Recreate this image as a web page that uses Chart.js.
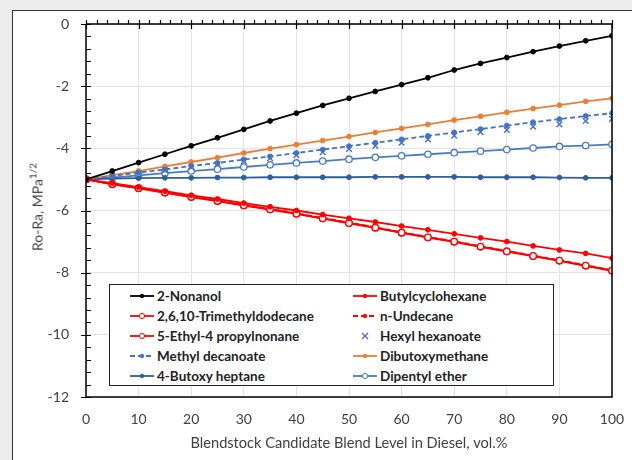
<!DOCTYPE html>
<html>
<head>
<meta charset="utf-8">
<title>Ro-Ra blend level</title>
<script src="https://cdn.jsdelivr.net/npm/chart.js@4.4.1/dist/chart.umd.min.js"></script>
<style>
  html, body { margin: 0; padding: 0; background: #ececec; }
  #wrap { position: relative; width: 632px; height: 460px; overflow: hidden; }
  #frame { position: absolute; left: 12px; top: 10px; width: 640px; height: 470px;
           border: 1.5px solid #333; background: #fff; }
  #lineChart { position: absolute; left: 0; top: 0; }
  #ytitle { position: absolute; left: 37px; top: 207px; transform: translate(-50%, -50%) rotate(-90deg);
            font: 14px Lato, sans-serif; color: #404040; white-space: nowrap; }
  #ytitle sup { font-size: 10px; vertical-align: 6px; line-height: 0; }
  #legend { position: absolute; left: 109px; top: 284px; width: 443px; height: 100px;
            border: 1.5px solid #222; background: #fff; font: bold 13.5px Lato, sans-serif; color: #222; }
  .item { position: absolute; height: 20px; line-height: 20px; white-space: nowrap; }
  .item svg { position: absolute; left: 0; top: 0; }
  .item span { position: absolute; left: 28px; top: 0; }
</style>
</head>
<body>
<div id="wrap">
  <div id="frame"></div>
  <canvas id="lineChart" width="632" height="460"></canvas>
  <div id="ytitle">Ro-Ra, MPa<sup>1/2</sup></div>
  <div id="legend"></div>
</div>
<script>
/* Dados */
const blendLevels = [0, 5, 10, 15, 20, 25, 30, 35, 40, 45, 50, 55, 60, 65, 70, 75, 80, 85, 90, 95, 100];

const nonanol = [-5, -4.73, -4.46, -4.19, -3.92, -3.66, -3.39, -3.12, -2.87, -2.62, -2.39, -2.17, -1.95, -1.73, -1.48, -1.27, -1.08, -0.89, -0.71, -0.54, -0.38];
const butylcyclohexane = [-5, -5.12, -5.25, -5.38, -5.51, -5.63, -5.76, -5.88, -6.00, -6.13, -6.25, -6.37, -6.50, -6.62, -6.75, -6.88, -7.00, -7.14, -7.27, -7.38, -7.53];
const trimethyldodecane = [-5, -5.15, -5.28, -5.42, -5.56, -5.69, -5.83, -5.96, -6.10, -6.25, -6.40, -6.55, -6.71, -6.86, -7.00, -7.16, -7.31, -7.46, -7.61, -7.77, -7.93];
const undecane = [-5, -5.14, -5.27, -5.41, -5.55, -5.68, -5.82, -5.95, -6.09, -6.24, -6.39, -6.54, -6.70, -6.85, -6.99, -7.15, -7.30, -7.45, -7.60, -7.76, -7.92];
const propylnonane = [-5, -5.16, -5.29, -5.43, -5.57, -5.70, -5.84, -5.97, -6.11, -6.26, -6.41, -6.56, -6.72, -6.87, -7.01, -7.17, -7.32, -7.47, -7.62, -7.78, -7.94];
const hexylHexanoate = [-5, -4.90, -4.80, -4.71, -4.61, -4.51, -4.41, -4.32, -4.22, -4.12, -4.02, -3.92, -3.82, -3.71, -3.59, -3.48, -3.41, -3.30, -3.23, -3.12, -3.05];
const methylDecanoate = [-5, -4.89, -4.78, -4.68, -4.57, -4.47, -4.36, -4.26, -4.15, -4.04, -3.93, -3.82, -3.71, -3.60, -3.49, -3.38, -3.27, -3.16, -3.06, -2.96, -2.87];
const dibutoxymethane = [-5, -4.86, -4.73, -4.58, -4.44, -4.30, -4.15, -4.01, -3.88, -3.75, -3.62, -3.49, -3.36, -3.23, -3.09, -2.97, -2.84, -2.72, -2.61, -2.49, -2.39];
const butoxyHeptane = [-5, -4.97, -4.96, -4.95, -4.95, -4.94, -4.94, -4.93, -4.93, -4.93, -4.93, -4.92, -4.92, -4.92, -4.92, -4.93, -4.93, -4.93, -4.94, -4.95, -4.95];
const dipentylEther = [-5, -4.94, -4.87, -4.80, -4.73, -4.67, -4.60, -4.53, -4.47, -4.41, -4.35, -4.29, -4.24, -4.19, -4.14, -4.09, -4.04, -3.99, -3.94, -3.91, -3.87];

const yTicks = [0, -2, -4, -6, -8, -10, -12];
const xTicks = [0, 10, 20, 30, 40, 50, 60, 70, 80, 90, 100];

const RED = '#ff0000';
const BLUE = '#4472c4';

function serie(label, data, color, opts) {
  opts = opts || {};
  return {
    label: label,
    data: data,
    borderColor: color,
    backgroundColor: opts.open ? '#fff' : color,
    pointBorderColor: color,
    pointBackgroundColor: opts.open ? '#fff' : color,
    borderWidth: 1.8,
    borderDash: opts.dash ? [5, 3] : [],
    pointRadius: opts.open ? 3.2 : 2.4,
    pointBorderWidth: opts.open ? 1.3 : 1,
    pointStyle: opts.style || 'circle',
    showLine: opts.noLine ? false : true,
    tension: 0
  };
}

// ordem da legenda: linha por linha, duas colunas
const datasets = [
  serie('2-Nonanol', nonanol, '#000000'),
  serie('Butylcyclohexane', butylcyclohexane, RED),
  serie('2,6,10-Trimethyldodecane', trimethyldodecane, RED, {open: true}),
  serie('n-Undecane', undecane, RED, {dash: true}),
  serie('5-Ethyl-4 propylnonane', propylnonane, RED, {open: true}),
  serie('Hexyl hexanoate', hexylHexanoate, BLUE, {noLine: true, style: 'crossRot'}),
  serie('Methyl decanoate', methylDecanoate, BLUE, {dash: true}),
  serie('Dibutoxymethane', dibutoxymethane, '#ed7d31'),
  serie('4-Butoxy heptane', butoxyHeptane, '#2f5f98'),
  serie('Dipentyl ether', dipentylEther, '#4a7bc6', {open: true})
];
datasets[5].pointRadius = 4;
datasets[5].pointBorderWidth = 1.4;

/* eixos no estilo do Excel: marcas menores e maiores desenhadas a mao */
const axisTicks = {
  id: 'axisTicks',
  afterDatasetsDraw(chart) {
    const {ctx, chartArea: a, scales: {x, y}} = chart;
    ctx.save();
    ctx.strokeStyle = '#000';
    ctx.lineWidth = 1.5;
    ctx.beginPath();
    ctx.moveTo(a.left, a.top); ctx.lineTo(a.left, a.bottom);
    ctx.lineTo(a.right, a.bottom); ctx.lineTo(a.right, a.top);
    ctx.lineTo(a.left, a.top);
    ctx.stroke();
    ctx.lineWidth = 1.2;
    ctx.beginPath();
    for (let v = 0; v >= -12.001; v -= 0.4) {
      const py = Math.round(y.getPixelForValue(v)) + 0.5;
      const major = Math.abs(v / 2 - Math.round(v / 2)) < 1e-6;
      ctx.moveTo(a.left - (major ? 5 : 0), py);
      ctx.lineTo(a.left + 5, py);
    }
    for (let v = 0; v <= 100; v += 2) {
      const px = Math.round(x.getPixelForValue(v)) + 0.5;
      const major = v % 10 === 0;
      ctx.moveTo(px, a.top - 4);
      ctx.lineTo(px, a.top + (major ? 5 : 0));
    }
    ctx.stroke();
    ctx.restore();
  }
};

document.addEventListener('DOMContentLoaded', () => {
  const ctx = document.getElementById('lineChart').getContext('2d');
  Chart.defaults.font.family = 'Lato, sans-serif';
  Chart.defaults.color = '#404040';

  new Chart(ctx, {
    type: 'line',
    data: {labels: blendLevels, datasets: datasets},
    plugins: [axisTicks],
    options: {
      responsive: false,
      animation: false,
      layout: {padding: {left: 0, top: 24, right: 20, bottom: 0}},
      scales: {
        x: {
          type: 'linear',
          min: 0, max: 100,
          afterBuildTicks: s => { s.ticks = xTicks.map(v => ({value: v})); },
          afterFit: s => { s.height = 63; s.paddingLeft = 0; s.paddingRight = 0; },
          grid: {color: '#e3e3e3', drawTicks: false},
          border: {display: false},
          ticks: {padding: 14, font: {size: 14}, maxRotation: 0},
          title: {display: true, text: 'Blendstock Candidate Blend Level in Diesel, vol.%',
                  font: {size: 14.6}, padding: {top: 4, bottom: 8}}
        },
        y: {
          min: -12, max: 0,
          afterBuildTicks: s => { s.ticks = yTicks.map(v => ({value: v})); },
          afterFit: s => { s.width = 86; s.paddingTop = 0; s.paddingBottom = 0; },
          grid: {color: '#e3e3e3', drawTicks: false},
          border: {display: false},
          ticks: {padding: 17, font: {size: 14}}
        }
      },
      plugins: {
        legend: {display: false},
        tooltip: {enabled: false}
      }
    }
  });

  // legenda propria, dentro da area do grafico
  const leg = document.getElementById('legend');
  datasets.forEach((d, i) => {
    const col = i % 2, row = Math.floor(i / 2);
    const div = document.createElement('div');
    div.className = 'item';
    div.style.left = (col === 0 ? 19 : 242) + 'px';
    div.style.top = (1 + row * 20) + 'px';
    let svg = '<svg width="28" height="20">';
    if (d.showLine) {
      svg += '<line x1="1" y1="10" x2="25" y2="10" stroke="' + d.borderColor + '" stroke-width="1.8"' +
             (d.borderDash.length ? ' stroke-dasharray="5,3"' : '') + '/>';
    }
    if (d.pointStyle === 'crossRot') {
      svg += '<path d="M10 7L16 13M16 7L10 13" stroke="' + d.borderColor + '" stroke-width="1.4"/>';
    } else {
      svg += '<circle cx="13" cy="10" r="' + (d.pointRadius - 0.6) + '" fill="' + d.pointBackgroundColor +
             '" stroke="' + d.pointBorderColor + '" stroke-width="1"/>';
    }
    svg += '</svg>';
    div.innerHTML = svg + '<span>' + d.label + '</span>';
    leg.appendChild(div);
  });
});
</script>
</body>
</html>
